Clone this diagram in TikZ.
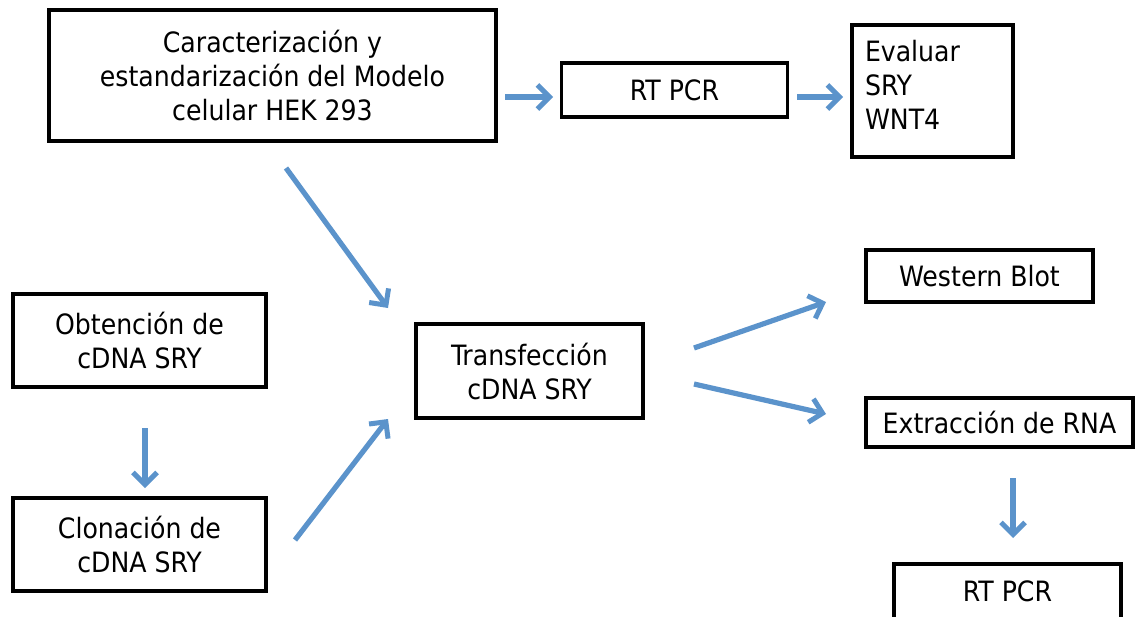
\documentclass[tikz,border=0pt]{standalone}
\usepackage{fontspec}
\setmainfont{DejaVu Sans Condensed}
\usetikzlibrary{arrows.meta}
\definecolor{arrowblue}{HTML}{5B93CB}
\tikzset{
  box/.style={draw=black, line width=3.2pt, inner sep=0pt, align=center,
    font=\fontsize{28}{34}\selectfont},
  flow/.style={draw=arrowblue, line width=5.2pt,
    -{Straight Barb[length=12pt,width=24pt,line width=5pt]}}
}
\begin{document}
\begin{tikzpicture}[x=1pt,y=-1pt]
\useasboundingbox (0,0) rectangle (1142,616);
% boxes
\node[box, minimum width=447pt, minimum height=131pt] (car) at (272.5,75.5)
  {Caracterización y\\estandarización del Modelo\\celular HEK 293};
\node[box, minimum width=226pt, minimum height=54pt] (rt1) at (674.5,90) {RT PCR};
\node[box, minimum width=161pt, minimum height=132pt] (eva) at (932.5,91)
  {\raisebox{0pt}[0pt][0pt]{\parbox{135pt}{\raggedright Evaluar\\SRY\\WNT4}}};
\node[box, minimum width=227pt, minimum height=52pt] (wb) at (979.5,276) {Western Blot};
\node[box, minimum width=267pt, minimum height=49pt] (ext) at (999.5,422.5) {Extracción de RNA};
\node[box, minimum width=227pt, minimum height=70pt] (rt2) at (1007.5,599) {\raisebox{16pt}{RT PCR}};
\node[box, minimum width=253pt, minimum height=93pt] (obt) at (139.5,340.5) {Obtención de\\cDNA SRY};
\node[box, minimum width=253pt, minimum height=93pt] (clo) at (139.5,544.5) {Clonación de\\cDNA SRY};
\node[box, minimum width=227pt, minimum height=94pt] (tra) at (529.5,371) {Transfección\\cDNA SRY};
% arrow end points
\coordinate (a1s) at (505,97);  \coordinate (a1e) at (553,97);
\coordinate (a2s) at (797,97);  \coordinate (a2e) at (843,97);
\coordinate (a3s) at (286,168); \coordinate (a3e) at (388,308);
\coordinate (a4s) at (145,428); \coordinate (a4e) at (145,488);
\coordinate (a5s) at (295,540); \coordinate (a5e) at (388,419);
\coordinate (a6s) at (694,348); \coordinate (a6e) at (826,302);
\coordinate (a7s) at (694,384); \coordinate (a7e) at (826,414);
\coordinate (a8s) at (1013,478); \coordinate (a8e) at (1013,538);
\draw[flow] (a1s) -- (a1e);
\draw[flow] (a2s) -- (a2e);
\draw[flow] (a3s) -- (a3e);
\draw[flow] (a4s) -- (a4e);
\draw[flow] (a5s) -- (a5e);
\draw[flow] (a6s) -- (a6e);
\draw[flow] (a7s) -- (a7e);
\draw[flow] (a8s) -- (a8e);
\end{tikzpicture}
\end{document}
